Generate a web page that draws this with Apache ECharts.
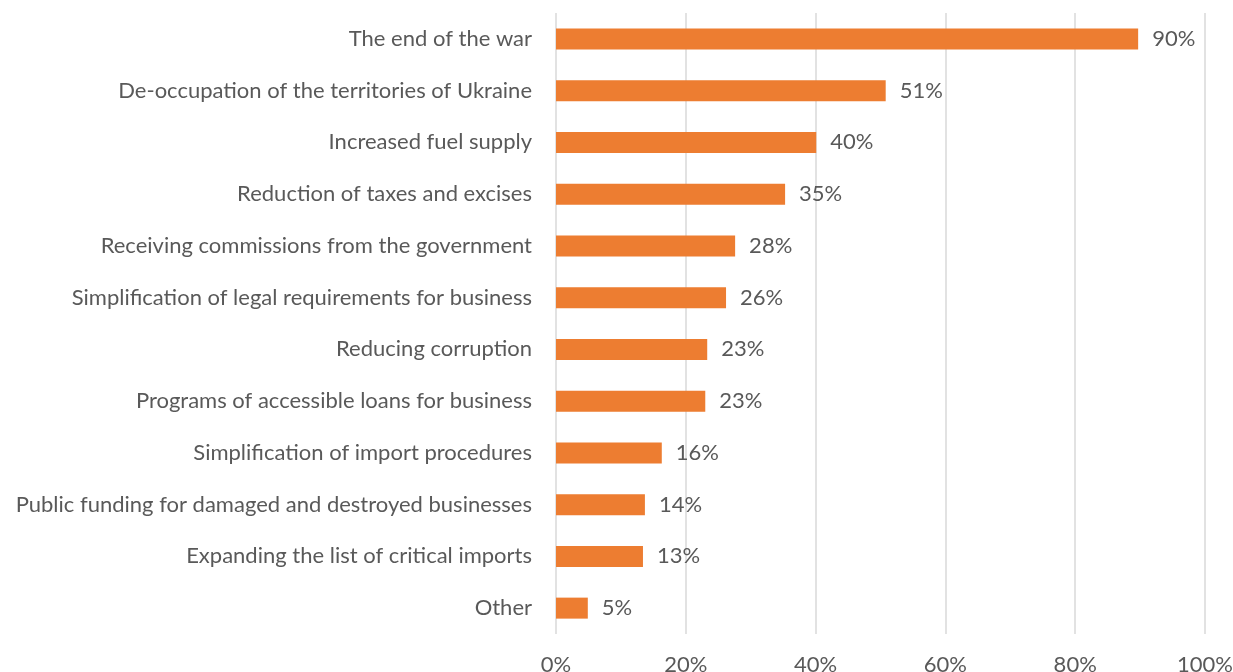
<!DOCTYPE html>
<html><head><meta charset="utf-8">
<script src="https://cdn.jsdelivr.net/npm/echarts@6/dist/echarts.min.js"></script>
<style>html,body{margin:0;padding:0;background:#fff}#c{width:1233px;height:672px}</style>
</head><body><div id="c"></div>
<script>
const categories = [
  "The end of the war",
  "De-occupation of the territories of Ukraine",
  "Increased fuel supply",
  "Reduction of taxes and excises",
  "Receiving commissions from the government",
  "Simplification of legal requirements for business",
  "Reducing corruption",
  "Programs of accessible loans for business",
  "Simplification of import procedures",
  "Public funding for damaged and destroyed businesses",
  "Expanding the list of critical imports",
  "Other"
];
const values = [89.7, 50.8, 40.1, 35.3, 27.6, 26.2, 23.3, 23.0, 16.3, 13.7, 13.4, 4.9];
const tickMin = 0, tickMax = 100, tickStep = 20;

const chart = echarts.init(document.getElementById('c'), null, {renderer: 'canvas'});
const font = 'Lato';
chart.setOption({
  animation: false,
  grid: {left: 556, right: 28, top: 13, bottom: 38, containLabel: false, outerBoundsMode: 'none'},
  xAxis: {
    type: 'value', min: tickMin, max: tickMax, interval: tickStep,
    axisLine: {show: false}, axisTick: {show: false},
    splitLine: {lineStyle: {color: '#D9D9D9', width: 1.5}},
    axisLabel: {formatter: '{value}%', color: '#595959', fontFamily: font, fontSize: 22, margin: 20}
  },
  yAxis: {
    type: 'category', data: categories, inverse: true,
    axisLine: {show: false}, axisTick: {show: false},
    axisLabel: {color: '#595959', fontFamily: font, fontSize: 22, margin: 24}
  },
  series: [{
    type: 'bar', data: values, barWidth: 21,
    itemStyle: {color: '#ED7D31'},
    label: {show: true, position: 'right', distance: 14, color: '#595959', fontFamily: font, fontSize: 22,
      formatter: p => Math.round(p.value) + '%'}
  }]
});
</script></body></html>
